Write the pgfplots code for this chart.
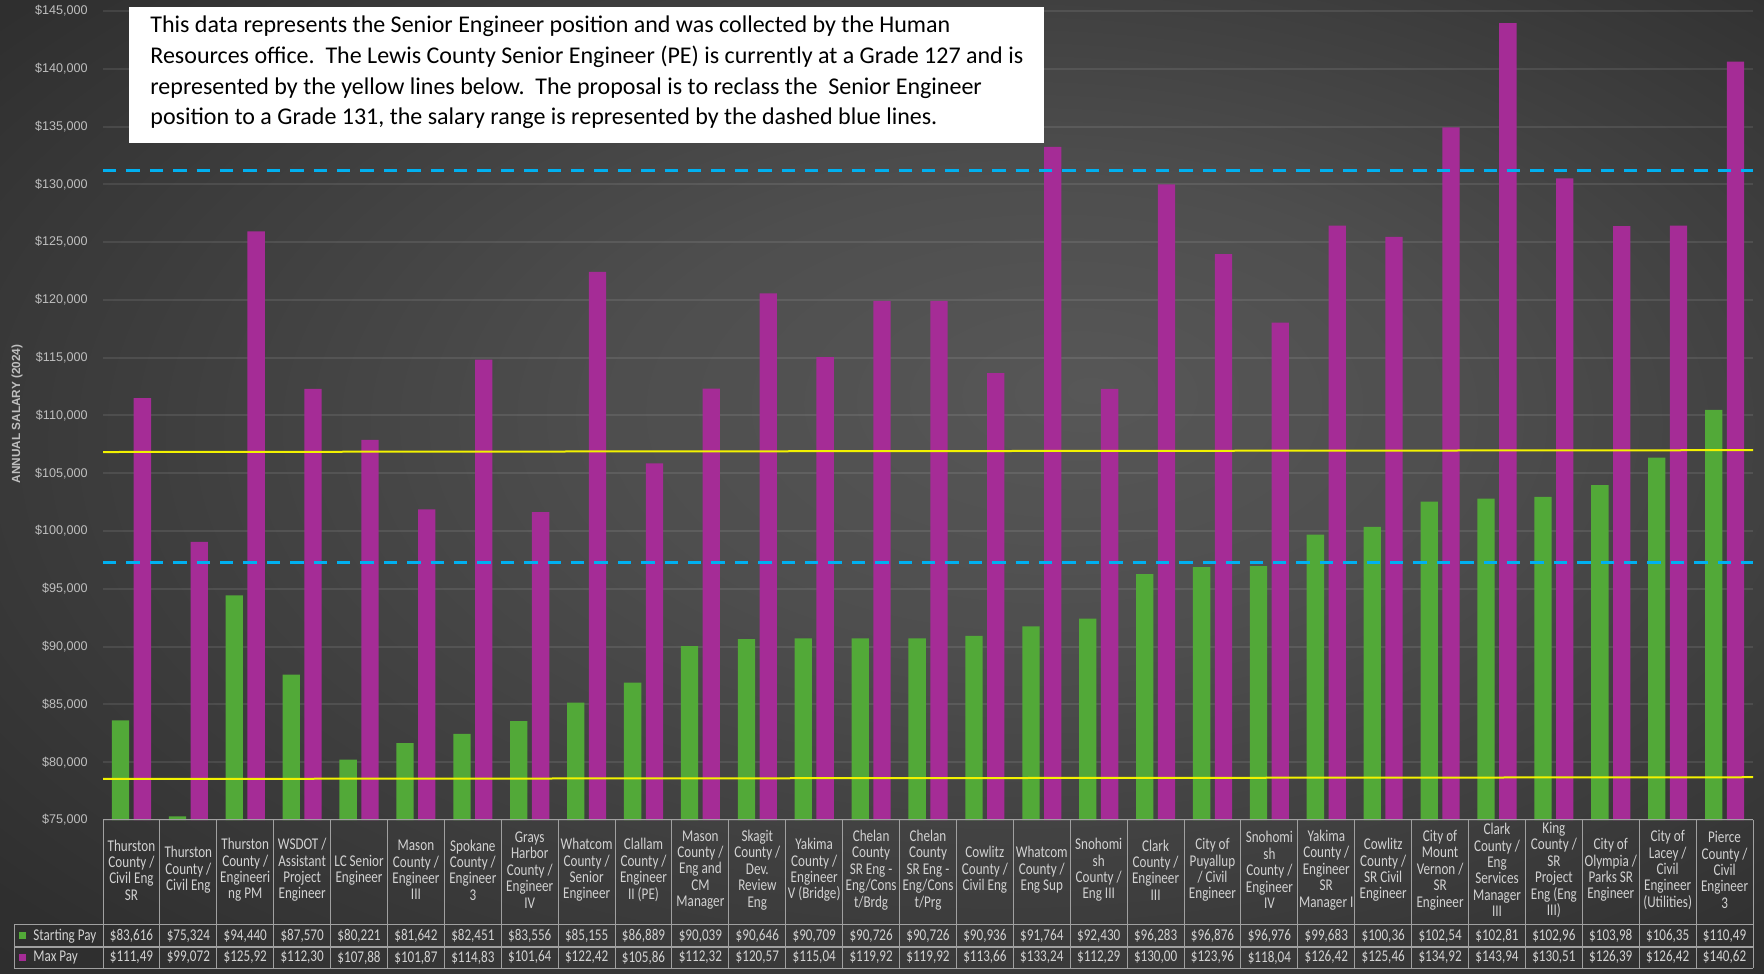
\documentclass[border=0pt]{standalone}
\usepackage{pgfplots}
\pgfplotsset{compat=1.18}
\usepackage{fontspec}
\setmainfont{Carlito}
\newfontfamily\tickfont{Liberation Sans}
\newfontfamily\tabfont[FakeStretch=0.8]{Carlito}
\definecolor{bgA}{HTML}{575757}
\definecolor{bgB}{HTML}{4E4E4E}
\definecolor{bgC}{HTML}{2F2F2F}
\definecolor{bgD}{HTML}{2A2A2A}
\definecolor{gbar}{HTML}{52A938}
\definecolor{mbar}{HTML}{A52C96}
\definecolor{ylw}{HTML}{F2F200}
\definecolor{blu}{HTML}{00B0F0}
\definecolor{tickc}{HTML}{BFBFBF}
\definecolor{tabtxt}{HTML}{D2D2D2}
\definecolor{tabln}{HTML}{A0A0A0}
\pgfdeclareradialshading{bgshade}{\pgfpoint{6bp}{5bp}}{color(0bp)=(bgA); color(12bp)=(bgB); color(35bp)=(bgC); color(50bp)=(bgD)}
\def\cw{28.44828}
\newcommand\tabsize{\tabfont\fontsize{8.2}{8.2}\selectfont}
\begin{document}
\begin{tikzpicture}[x=1pt,y=1pt]
\shade[shading=bgshade] (0,0) rectangle (882,486.5);
\begin{axis}[
  at={(51.5pt,76.5pt)}, anchor=south west,
  scale only axis, width=825pt, height=404.5pt,
  xmin=-0.5, xmax=28.5, ymin=75000, ymax=145000,
  axis line style={draw=none},
  major tick length=0pt,
  ytick distance=5000,
  ymajorgrids, major grid style={white, opacity=0.09, line width=1pt},
  scaled y ticks=false,
  yticklabel={\$\pgfmathprintnumber{\tick}},
  /pgf/number format/.cd, fixed, 1000 sep={,}, assume math mode=true,
  /pgfplots/.cd,
  yticklabel style={font=\tickfont\fontsize{6.3}{7}\selectfont, text=tickc, anchor=east, inner sep=0pt, xshift=-7.5pt},
  xtick={0,...,28},
  xticklabels={
   {Thurston\\County /\\Civil Eng\\SR},
   {Thurston\\County /\\Civil Eng},
   {Thurston\\County /\\Engineeri\\ng PM},
   {WSDOT /\\Assistant\\Project\\Engineer},
   {LC Senior\\Engineer},
   {Mason\\County /\\Engineer\\III},
   {Spokane\\County /\\Engineer\\3},
   {Grays\\Harbor\\County /\\Engineer\\IV},
   {Whatcom\\County /\\Senior\\Engineer},
   {Clallam\\County /\\Engineer\\II (PE)},
   {Mason\\County /\\Eng and\\CM\\Manager},
   {Skagit\\County /\\Dev.\\Review\\Eng},
   {Yakima\\County /\\Engineer\\V (Bridge)},
   {Chelan\\County\\SR Eng -\\Eng/Cons\\t/Brdg},
   {Chelan\\County\\SR Eng -\\Eng/Cons\\t/Prg},
   {Cowlitz\\County /\\Civil Eng},
   {Whatcom\\County /\\Eng Sup},
   {Snohomi\\sh\\County /\\Eng III},
   {Clark\\County /\\Engineer\\III},
   {City of\\Puyallup\\/ Civil\\Engineer},
   {Snohomi\\sh\\County /\\Engineer\\IV},
   {Yakima\\County /\\Engineer\\SR\\Manager I},
   {Cowlitz\\County /\\SR Civil\\Engineer},
   {City of\\Mount\\Vernon /\\SR\\Engineer},
   {Clark\\County /\\Eng\\Services\\Manager\\III},
   {King\\County /\\SR\\Project\\Eng (Eng\\III)},
   {City of\\Olympia /\\Parks SR\\Engineer},
   {City of\\Lacey /\\Civil\\Engineer\\(Utilities)},
   {Pierce\\County /\\Civil\\Engineer\\3}},
  xticklabel style={font=\tabsize, text=tabtxt, align=center, anchor=center, inner sep=0pt, yshift=-25pt},
]
\addplot[ybar, bar width=8.65pt, bar shift=-5.45pt, fill=gbar, draw=none] coordinates {
(0,83616) (1,75324) (2,94440) (3,87570) (4,80221) (5,81642) (6,82451) (7,83556) (8,85155) (9,86889)
(10,90039) (11,90646) (12,90709) (13,90726) (14,90726) (15,90936) (16,91764) (17,92430) (18,96283) (19,96876)
(20,96976) (21,99683) (22,100365) (23,102545) (24,102815) (25,102965) (26,103985) (27,106355) (28,110495)};
\addplot[ybar, bar width=8.65pt, bar shift=5.45pt, fill=mbar, draw=none] coordinates {
(0,111495) (1,99072) (2,125925) (3,112305) (4,107885) (5,101875) (6,114835) (7,101645) (8,122425) (9,105865)
(10,112325) (11,120575) (12,115045) (13,119925) (14,119925) (15,113665) (16,133245) (17,112295) (18,130005) (19,123965)
(20,118045) (21,126425) (22,125465) (23,134925) (24,143945) (25,130515) (26,126395) (27,126425) (28,140625)};
\addplot[ylw, line width=1pt] coordinates {(-0.5,78550) (28.5,78700)};
\addplot[ylw, line width=1pt] coordinates {(-0.5,106840) (28.5,107000)};
\addplot[blu, line width=1.5pt, dash pattern=on 6.7pt off 5pt] coordinates {(-0.5,97320) (28.5,97320)};
\addplot[blu, line width=1.5pt, dash pattern=on 6.7pt off 5pt] coordinates {(-0.5,131180) (28.5,131180)};
\end{axis}
% y label
\node[rotate=90, font=\tickfont\bfseries\fontsize{5.9}{7}\selectfont, text=tickc] at (8.5,279.5) {ANNUAL SALARY (2024)};
% text box
\fill[white] (64.5,483) rectangle (522,415);
\begin{scope}[every node/.style={anchor=base west, inner sep=0pt, font=\fontsize{12}{14}\selectfont, text=black}]
\node at (75,470) {This data represents the Senior Engineer position and was collected by the Human};
\node at (75,454.5) {Resources office.\ \ The Lewis County Senior Engineer (PE) is currently at a Grade 127 and is};
\node at (75,439) {represented by the yellow lines below.\ \ The proposal is to reclass the\ \ Senior Engineer};
\node at (75,424) {position to a Grade 131, the salary range is represented by the dashed blue lines.};
\end{scope}
% table grid
\begin{scope}[draw=tabln, line width=0.5pt]
\draw (51.5,76.5) -- (876.5,76.5);
\draw (7,24) -- (876.5,24);
\draw (7,13) -- (876.5,13);
\draw (7,2.5) -- (876.5,2.5);
\draw (7,24) -- (7,2.5);
\foreach \k in {0,...,29} { \draw ({51.5+\k*\cw},76.5) -- ({51.5+\k*\cw},2.5); }
\end{scope}
% legend cells
\fill[gbar] (9.5,16.75) rectangle (13,20.25);
\fill[mbar] (9.5,6) rectangle (13,9.5);
\begin{scope}[every node/.style={inner sep=0pt, font=\tabsize, text=tabtxt}]
\node[anchor=west] at (16.5,18.5) {Starting Pay};
\node[anchor=west] at (16.5,7.75) {Max Pay};
\foreach \v [count=\i from 0] in {{\$83,616},{\$75,324},{\$94,440},{\$87,570},{\$80,221},{\$81,642},{\$82,451},{\$83,556},{\$85,155},{\$86,889},{\$90,039},{\$90,646},{\$90,709},{\$90,726},{\$90,726},{\$90,936},{\$91,764},{\$92,430},{\$96,283},{\$96,876},{\$96,976},{\$99,683},{\$100,36},{\$102,54},{\$102,81},{\$102,96},{\$103,98},{\$106,35},{\$110,49}}
  { \node at ({51.5+(\i+0.5)*\cw},18.5) {\v}; }
\foreach \v [count=\i from 0] in {{\$111,49},{\$99,072},{\$125,92},{\$112,30},{\$107,88},{\$101,87},{\$114,83},{\$101,64},{\$122,42},{\$105,86},{\$112,32},{\$120,57},{\$115,04},{\$119,92},{\$119,92},{\$113,66},{\$133,24},{\$112,29},{\$130,00},{\$123,96},{\$118,04},{\$126,42},{\$125,46},{\$134,92},{\$143,94},{\$130,51},{\$126,39},{\$126,42},{\$140,62}}
  { \node at ({51.5+(\i+0.5)*\cw},7.75) {\v}; }
\end{scope}
\end{tikzpicture}
\end{document}
